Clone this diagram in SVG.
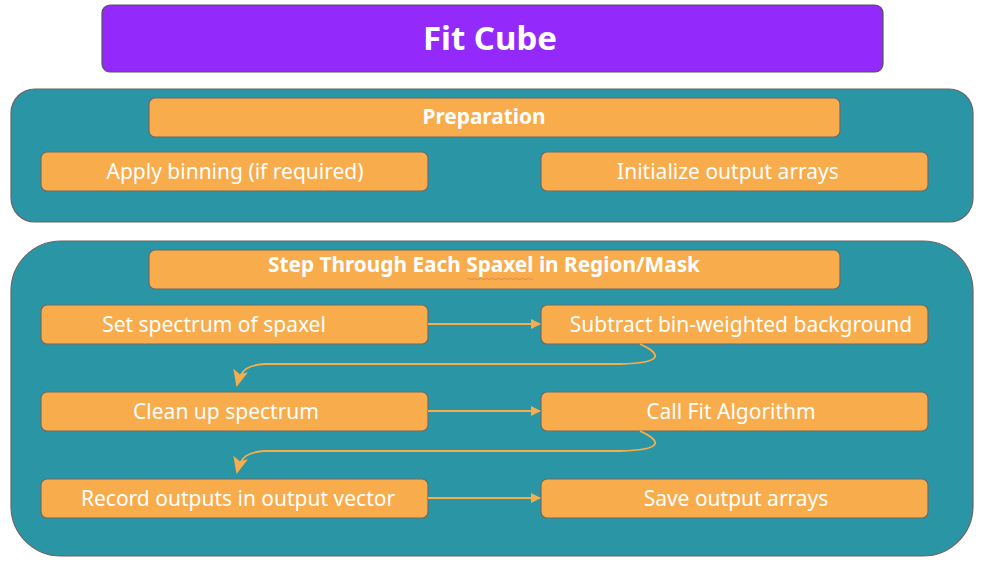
<svg xmlns="http://www.w3.org/2000/svg" width="986" height="574" viewBox="0 0 986 574">
<defs>
<style>
.cont{fill:#2A96A5;stroke:#666;stroke-width:1.2}
.box{fill:#F9AC4B;stroke:#6b6b6b;stroke-width:1.2}
.t{font-family:"Noto Sans","Open Sans","Liberation Sans",sans-serif;fill:#fff;text-anchor:middle}
.n{font-size:21px}
.b{font-size:20.8px;font-weight:bold}
.edge{fill:none;stroke:#F9AC4B;stroke-width:1.8}
</style>
<marker id="ah" markerWidth="10" markerHeight="10" refX="9" refY="5" orient="auto" markerUnits="userSpaceOnUse" viewBox="0 0 10 10">
<path d="M0,0 L10,5 L0,10 Z" fill="#F9AC4B"/>
</marker>
<marker id="ah2" markerWidth="17" markerHeight="17" refX="15" refY="7.5" orient="auto" markerUnits="userSpaceOnUse" viewBox="0 0 17 15">
<path d="M0,0 L17,7.5 L0,15 L4,7.5 Z" fill="#F9AC4B"/>
</marker>
</defs>
<rect width="986" height="574" fill="#fff"/>
<g id="title">
<rect x="102" y="5" width="781" height="67" rx="8" fill="#9329FB" stroke="#555" stroke-width="1.2"/>
<text class="t" x="490" y="50" font-size="33" font-weight="bold">Fit Cube</text>
</g>
<g id="prep-container">
<rect class="cont" x="11" y="89" width="962" height="133" rx="24"/>
</g>
<g id="prep-header">
<rect class="box" x="149" y="98" width="691" height="39" rx="6"/>
<text class="t b" x="484" y="124">Preparation</text>
</g>
<g id="apply-binning">
<rect class="box" x="41" y="152" width="387" height="39" rx="6"/>
<text class="t n" x="235" y="179">Apply binning (if required)</text>
</g>
<g id="init-arrays">
<rect class="box" x="541" y="152" width="387" height="39" rx="6"/>
<text class="t n" x="728" y="179">Initialize output arrays</text>
</g>
<g id="step-container">
<rect class="cont" x="11" y="241" width="962" height="315" rx="50"/>
</g>
<g id="step-header">
<rect class="box" x="149" y="250" width="691" height="39" rx="6"/>
<text class="t b" x="484" y="272">Step Through Each Spaxel in Region/Mask</text>
<path d="M467,279 q1.5,-1.5 3,0 t3,0 t3,0 t3,0 t3,0 t3,0 t3,0 t3,0 t3,0 t3,0 t3,0 t3,0 t3,0 t3,0 t3,0 t3,0 t3,0 t3,0 t3,0 t3,0 t3,0 t3,0" fill="none" stroke="#d9776f" stroke-width="0.8"/>
</g>
<g id="set-spectrum">
<rect class="box" x="41" y="305" width="387" height="39" rx="6"/>
<text class="t n" x="214" y="332">Set spectrum of spaxel</text>
</g>
<g id="subtract-bg">
<rect class="box" x="541" y="305" width="387" height="39" rx="6"/>
<text class="t n" x="741" y="332">Subtract bin-weighted background</text>
</g>
<g id="clean-up">
<rect class="box" x="41" y="392" width="387" height="39" rx="6"/>
<text class="t n" x="226" y="419">Clean up spectrum</text>
</g>
<g id="call-fit">
<rect class="box" x="541" y="392" width="387" height="39" rx="6"/>
<text class="t n" x="731" y="419">Call Fit Algorithm</text>
</g>
<g id="record-outputs">
<rect class="box" x="41" y="479" width="387" height="39" rx="6"/>
<text class="t n" x="238" y="506">Record outputs in output vector</text>
</g>
<g id="save-arrays">
<rect class="box" x="541" y="479" width="387" height="39" rx="6"/>
<text class="t n" x="736" y="506">Save output arrays</text>
</g>
<g id="connectors">
<path class="edge" d="M428,324 L540,324" marker-end="url(#ah)"/>
<path class="edge" d="M640,344 C662,354 664,363 620,364 L265,364 C248,365 241,369 237,385" marker-end="url(#ah2)"/>
<path class="edge" d="M428,411 L540,411" marker-end="url(#ah)"/>
<path class="edge" d="M640,431 C662,441 664,450 620,451 L265,451 C248,452 241,456 237,472" marker-end="url(#ah2)"/>
<path class="edge" d="M428,498 L540,498" marker-end="url(#ah)"/>
</g>
</svg>
